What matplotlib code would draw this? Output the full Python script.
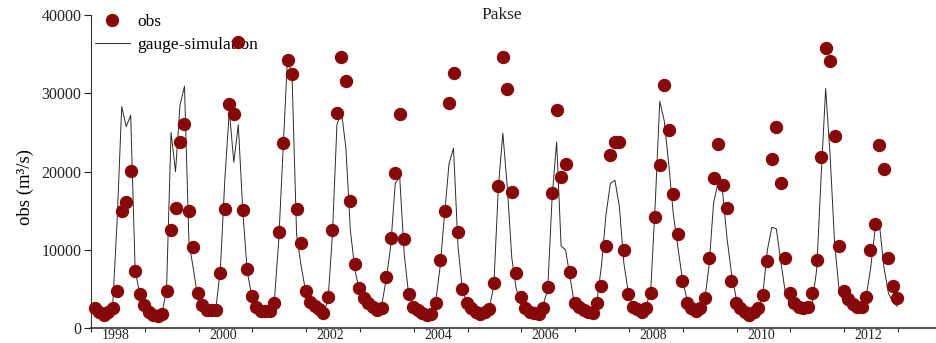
import matplotlib
matplotlib.use("Agg")
import matplotlib.pyplot as plt
import numpy as np

plt.rcParams['font.family'] = ['Liberation Serif', 'DejaVu Serif']

years = list(range(1998, 2013))

# monthly observed discharge, Jan..Dec for each year (m3/s)
obs = {
    1998: [2550, 2120, 1700, 2120, 2600, 4760, 15000, 16100, 20090, 7360, 4420, 2940],
    1999: [2040, 1700, 1530, 1800, 4800, 12550, 15400, 23750, 26090, 15000, 10340, 4550],
    2000: [2940, 2300, 2300, 2300, 7100, 15240, 28600, 27370, 36600, 15100, 7570, 4120],
    2001: [2760, 2200, 2200, 2200, 3190, 12340, 23630, 34260, 32470, 15200, 10850, 4800],
    2002: [3400, 2850, 2430, 2000, 3960, 12550, 27450, 34600, 31580, 16300, 8170, 5110],
    2003: [3830, 3190, 2680, 2340, 2550, 6510, 11490, 19870, 27370, 11370, 4380, 2760],
    2004: [2340, 2000, 1700, 1830, 3190, 8720, 15020, 28730, 32640, 12340, 4980, 3270],
    2005: [2550, 2120, 1830, 2120, 2430, 5820, 18210, 34600, 30560, 17440, 7020, 4040],
    2006: [2550, 2120, 1920, 1790, 2630, 5310, 17240, 27880, 19360, 20980, 7230, 3190],
    2007: [2760, 2340, 2040, 1920, 3270, 5400, 10550, 22130, 23830, 23830, 10000, 4380],
    2008: [2760, 2430, 2120, 2550, 4550, 14170, 20850, 31070, 25320, 17150, 12040, 6080],
    2009: [3270, 2630, 2210, 2550, 3830, 8940, 19230, 23540, 18300, 15320, 6080, 3190],
    2010: [2550, 2120, 1700, 2120, 2630, 4250, 8630, 21580, 25670, 18590, 8940, 4550],
    2011: [3190, 2760, 2630, 2760, 4550, 8720, 21910, 35750, 34170, 24560, 10550, 4800],
    2012: [3700, 3100, 2760, 2760, 3960, 10000, 13280, 23410, 20300, 8940, 5400, 3830],
}

# gauge-driven simulation, Jan..Dec
sim = {
    1998: [2300, 2000, 1800, 2100, 3000, 14000, 28300, 25750, 27200, 7400, 4500, 2800],
    1999: [2000, 1800, 1700, 1900, 5000, 25000, 20000, 28500, 30900, 11000, 7500, 3800],
    2000: [2600, 2300, 2200, 2500, 7500, 19000, 27800, 21200, 26000, 15000, 7200, 4200],
    2001: [2600, 2200, 2100, 2200, 3200, 11000, 23000, 34800, 32000, 12000, 8000, 4800],
    2002: [3000, 2500, 2200, 2000, 3500, 12000, 26000, 27700, 23000, 12500, 7500, 4800],
    2003: [3300, 2700, 2500, 2300, 3000, 6300, 10500, 18500, 19300, 9500, 4300, 2900],
    2004: [2300, 2000, 1800, 1900, 3200, 7800, 14500, 21000, 23000, 10500, 4800, 3300],
    2005: [2500, 2100, 1900, 2000, 2600, 5500, 18000, 24900, 18000, 9000, 5000, 3300],
    2006: [2400, 2100, 1900, 1800, 3000, 4900, 16800, 23800, 10500, 10000, 6500, 2900],
    2007: [2600, 2300, 2000, 1900, 3500, 8000, 14500, 18500, 18900, 15500, 8300, 4500],
    2008: [2800, 2500, 2300, 2800, 5000, 16000, 29000, 26500, 21000, 14700, 10500, 6500],
    2009: [3800, 2500, 2100, 2200, 3500, 8000, 16000, 18600, 17500, 11500, 7000, 4000],
    2010: [2700, 2200, 1800, 1900, 2600, 4400, 10000, 12900, 12700, 8500, 4600, 3000],
    2011: [2800, 2500, 2400, 2400, 3200, 7500, 19500, 30600, 22000, 10800, 4900, 3400],
    2012: [2800, 2400, 2100, 2100, 4000, 7500, 12500, 13200, 7800, 4500, 3300, 2800],
}

label_years = [1998, 2000, 2002, 2004, 2006, 2008, 2010, 2012]

# decimal-year time axis for the monthly values
t = np.array([y + (m + 0.85) / 12 for y in years for m in range(12)])
obs_all = np.concatenate([obs[y] for y in years])
sim_all = np.concatenate([sim[y] for y in years])

fig = plt.figure(figsize=(9.36, 3.43), dpi=100)
ax = fig.add_axes([91/936, 1 - 328.3/343, 845/936, 313.3/343])

ax.plot(t, obs_all, 'o', color='#870808', markersize=8.6, mec='#870808',
        label='obs', zorder=4, clip_on=False)
ax.plot(t, sim_all, '-', color='#2a2a2a', lw=0.7, label='gauge-simulation', zorder=3)

ax.set_xlim(1998.0, 2013.705)
ax.set_ylim(0, 40000)

ax.spines['top'].set_visible(False)
ax.spines['right'].set_visible(False)
ax.spines['bottom'].set_color('#333333')
ax.spines['bottom'].set_linewidth(1.2)
ax.spines['left'].set_color('#333333')

ax.set_yticks([0, 10000, 20000, 30000, 40000])
ax.tick_params(axis='y', direction='out', length=5, width=0.8, pad=2,
               labelsize=11.5, colors='#222222')
ax.set_xticks([y + 0.45 for y in label_years], [str(y) for y in label_years])
ax.set_xticks(years + [2013], minor=True)
ax.tick_params(axis='x', which='major', length=0, pad=0.5, labelsize=10,
               colors='#222222')
ax.tick_params(axis='x', which='minor', direction='out', length=3, width=0.8,
               color='#333333')

ax.set_ylabel('obs (m³/s)', fontsize=13.5)
ax.yaxis.set_label_coords(-0.0675, 0.45)

ax.text(0.486, 1.0, 'Pakse', transform=ax.transAxes, ha='center', va='center',
        fontsize=12.5, color='#222222')

leg = ax.legend(loc='upper left', bbox_to_anchor=(0.0047, 1.005), frameon=False,
                fontsize=12.5, borderpad=0, borderaxespad=0, handlelength=2.0,
                handletextpad=0.45, labelspacing=0.4)
leg.set_zorder(2)

fig.savefig('out.png', dpi=100)
